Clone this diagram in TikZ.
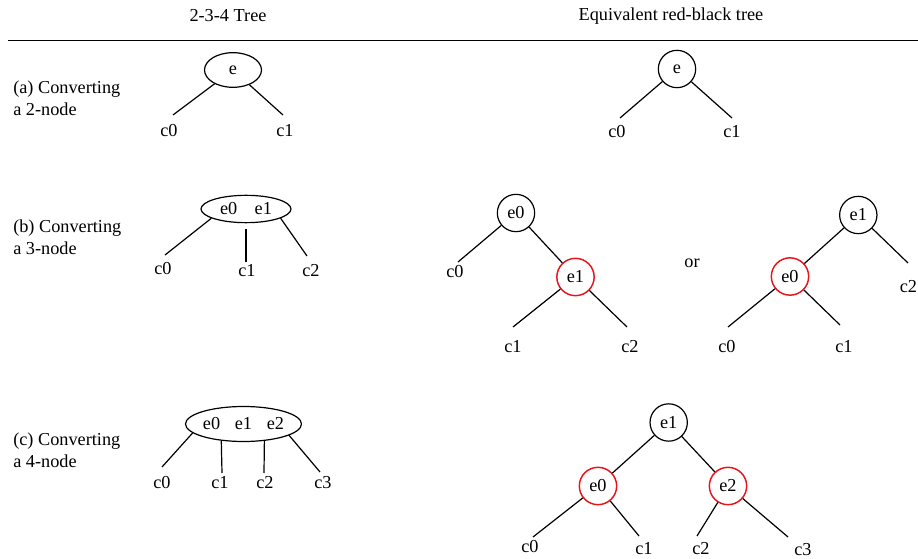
\documentclass[tikz,border=0pt]{standalone}
\usepackage{fontspec}
\setmainfont{Liberation Serif}
\usepackage{tikz}
\usetikzlibrary{shapes.geometric}
\definecolor{RBRed}{HTML}{E8141B}

\begin{document}
\begin{tikzpicture}[x=0.75pt,y=-0.75pt,
  every node/.style={font=\fontsize{13.7}{16.4}\selectfont},
  multi/.style={draw,ellipse,inner sep=0pt,line width=0.9pt},
  blk/.style={draw,circle,minimum size=28pt,inner sep=0pt,line width=0.9pt},
  rednode/.style={blk,draw=RBRed,line width=1.1pt},
  lnk/.style={line width=0.9pt},
  rowcap/.style={anchor=west,align=left,inner sep=0pt}
]
\clip (0,0) rectangle (918,559);
% headings
\node (head234) at (228,16) {2-3-4 Tree};
\node (headrb) at (671,16) {Equivalent red-black tree};
\draw[line width=1.1pt] (8,40.5) -- (918,40.5);
\node[rowcap] (capa) at (13,98) {(a) Converting\\a 2-node};
\node[rowcap] (capb) at (13,237) {(b) Converting\\a 3-node};
\node[rowcap] (capc) at (13,450) {(c) Converting\\a 4-node};
% (a) 2-node
\node[multi,minimum width=42.75pt,minimum height=26pt] (twokey) at (233,70) {e};
\coordinate (two0) at (173,115);
\coordinate (two1) at (283,115);
\node (twoc0) at (169,131) {c0};
\node (twoc1) at (285,131) {c1};
\draw[lnk] (twokey) -- (two0);
\draw[lnk] (twokey) -- (two1);
\node[blk] (rbe) at (677,69) {e};
\coordinate (rbe0) at (620,118);
\coordinate (rbe1) at (732,118);
\node (rbc0) at (617,132) {c0};
\node (rbc1) at (732,132) {c1};
\draw[lnk] (rbe) -- (rbe0);
\draw[lnk] (rbe) -- (rbe1);
% (b) 3-node
\node[multi,minimum width=67.5pt,minimum height=20.5pt] (threekey) at (246,209) {e0\hspace{13pt}e1};
\coordinate (three0) at (165,255);
\coordinate (three1) at (246,262);
\coordinate (three2) at (307,256);
\node (threec0) at (163,269) {c0};
\node (threec1) at (247,271) {c1};
\node (threec2) at (311,271) {c2};
\draw[lnk] (threekey.195) -- (three0);
\draw[lnk,shorten <=4.5pt] (threekey.south) -- (three1);
\draw[lnk] (threekey.-15) -- (three2);
\node[blk] (lefte0) at (516,213) {e0};
\node[rednode] (lefte1) at (575.5,277) {e1};
\coordinate (left0) at (458,262);
\coordinate (left1) at (513,327);
\coordinate (left2) at (627,327);
\node (leftc0) at (455,272) {c0};
\node (leftc1) at (513,347) {c1};
\node (leftc2) at (630,347) {c2};
\draw[lnk] (lefte0) -- (left0);
\draw[lnk] (lefte0) -- (lefte1);
\draw[lnk] (lefte1) -- (left1);
\draw[lnk] (lefte1) -- (left2);
\node (orword) at (692,263) {or};
\node[blk] (righte1) at (858.3,215) {e1};
\node[rednode] (righte0) at (790,276.5) {e0};
\coordinate (right0) at (728,327);
\coordinate (right1) at (840,325);
\coordinate (right2) at (908,263);
\node (rightc0) at (727,347) {c0};
\node (rightc1) at (844,347) {c1};
\node (rightc2) at (908.5,287) {c2};
\draw[lnk] (righte1) -- (righte0);
\draw[lnk] (righte1) -- (right2);
\draw[lnk] (righte0) -- (right0);
\draw[lnk] (righte0) -- (right1);
% (c) 4-node
\node[multi,minimum width=87pt,minimum height=26.25pt] (fourkey) at (243.5,424) {e0\hspace{11pt}e1\hspace{11pt}e2};
\coordinate (four0) at (162,467);
\coordinate (four1) at (222,473);
\coordinate (four2) at (264,473);
\coordinate (four3) at (320,472);
\node (fourc0) at (162,483) {c0};
\node (fourc1) at (220,483) {c1};
\node (fourc2) at (265,483) {c2};
\node (fourc3) at (323,483) {c3};
\draw[lnk] (fourkey.190) -- (four0);
\draw[lnk] (fourkey.217) -- (four1);
\draw[lnk] (fourkey.-39) -- (four2);
\draw[lnk] (fourkey.-14) -- (four3);
\node[blk] (fourrb1) at (668.7,422.5) {e1};
\node[rednode] (fourrb0) at (598,486) {e0};
\node[rednode] (fourrb2) at (728,486) {e2};
\coordinate (fourrbl0) at (533,537);
\coordinate (fourrbl1) at (639,536);
\coordinate (fourrbl2) at (697,536);
\coordinate (fourrbl3) at (788,537);
\node (fourrbc0) at (530,547) {c0};
\node (fourrbc1) at (644,549) {c1};
\node (fourrbc2) at (701,549) {c2};
\node (fourrbc3) at (803,550) {c3};
\draw[lnk] (fourrb1) -- (fourrb0);
\draw[lnk] (fourrb1) -- (fourrb2);
\draw[lnk] (fourrb0) -- (fourrbl0);
\draw[lnk] (fourrb0) -- (fourrbl1);
\draw[lnk] (fourrb2) -- (fourrbl2);
\draw[lnk] (fourrb2) -- (fourrbl3);
\end{tikzpicture}
\end{document}
